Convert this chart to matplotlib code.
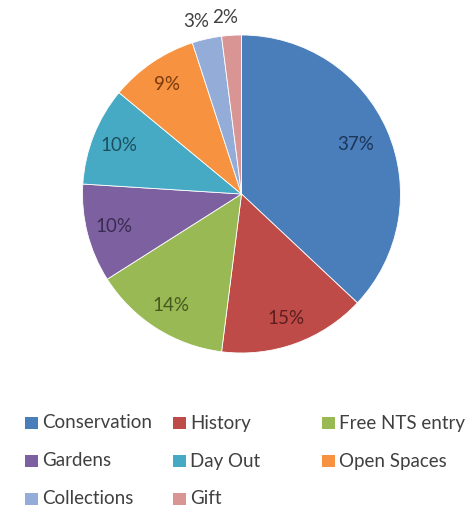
import numpy as np
import matplotlib
matplotlib.use('Agg')
import matplotlib.pyplot as plt
from matplotlib.patches import Rectangle

labels = ['Conservation', 'History', 'Free NTS entry', 'Gardens', 'Day Out',
          'Open Spaces', 'Collections', 'Gift']
shares = [37, 15, 14, 10, 10, 9, 3, 2]
colors = ['#4A7EBB', '#BE4B48', '#98B954', '#7D60A0', '#46AAC5', '#F69240',
          '#93ADD8', '#D99593']
text_colors = ['#1C3557', '#5C1F1D', '#46591F', '#3A2B50', '#1D4F5E', '#7A3A0D',
               '#404040', '#404040']

plt.rcParams['font.family'] = ['Lato', 'DejaVu Sans']

W, H = 467, 509
fig = plt.figure(figsize=(W / 100, H / 100), dpi=100)
fig.patch.set_facecolor('white')

# pie centre and radius in pixels
cx, cy, r = 241.5, 194, 159
ax = fig.add_axes([(cx - r) / W, (H - cy - r) / H, 2 * r / W, 2 * r / H])
wedges, _ = ax.pie(shares, colors=colors, startangle=90, counterclock=False,
                   wedgeprops=dict(edgecolor='white', linewidth=0.6))
ax.set_xlim(-1, 1)
ax.set_ylim(-1, 1)
ax.set_aspect('equal')
ax.axis('off')

for i, w in enumerate(wedges):
    ang = np.deg2rad((w.theta1 + w.theta2) / 2)
    txt = '%d%%' % shares[i]
    if shares[i] >= 5:
        d = 0.78 if i == 0 else 0.83
        ax.text(d * np.cos(ang), d * np.sin(ang), txt, ha='center', va='center',
                fontsize=13.5, color=text_colors[i])
    else:
        # small slices get their labels outside the rim
        d = 1.11
        shift = -5 if shares[i] == 3 else -4
        ax.annotate(txt, (d * np.cos(ang), d * np.sin(ang)), xytext=(shift, 0),
                    textcoords='offset points', ha='center', va='center',
                    fontsize=13.5, color=text_colors[i], annotation_clip=False)

# legend laid out row by row, three to a row
col_x = [25, 173, 322]
row_y = [423, 461, 499]
for i, lab in enumerate(labels):
    x, y = col_x[i % 3], row_y[i // 3]
    fig.add_artist(Rectangle((x / W, (H - y - 6) / H), 13 / W, 12 / H,
                             transform=fig.transFigure, color=colors[i], lw=0))
    fig.text((x + 17) / W, (H - y) / H, lab, ha='left', va='center',
             fontsize=13.5, color='#404040')

fig.savefig('out.png', dpi=100)
